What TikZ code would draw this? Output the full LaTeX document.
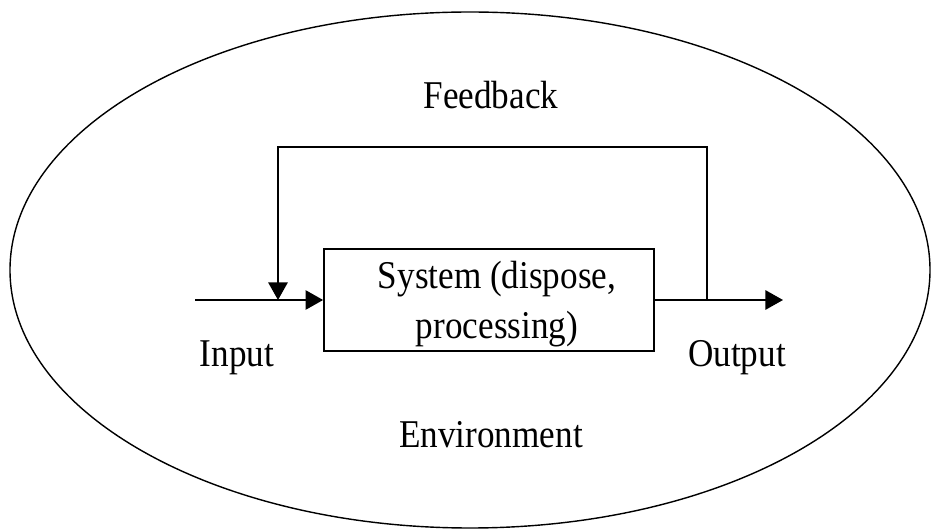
\documentclass[tikz,border=0pt]{standalone}
\usepackage{graphicx}
\usepackage{fontspec}
\setmainfont{Liberation Serif}
\usetikzlibrary{arrows.meta}
\newcommand{\vtext}[1]{\scalebox{1}[1.12]{#1}}
\begin{document}
\begin{tikzpicture}[line width=1pt, >={Triangle[length=10pt,width=11pt]},
        every node/.style={font=\fontsize{20}{24}\selectfont}]
        \useasboundingbox (0,0) rectangle (18.7,10.62);
        \draw[line width=0.8pt] (9.4,5.22) ellipse (9.2 and 5.16);
        \node[draw, minimum width=6.6cm, minimum height=2.04cm] (sys) at (9.78,4.62) {};
        \node[align=center] (systext) at (9.94,4.54) {\vtext{System (dispose,}\\[4pt]\vtext{processing)}};
        \coordinate (in) at (3.9,4.62);
        \coordinate (out) at (15.66,4.62);
        \coordinate (fbout) at (14.14,4.62);
        \coordinate (fbin) at (5.56,4.62);
        \draw[->] (in) -- (sys.west);
        \draw[->] (sys.east) -- (out);
        \draw[->] (fbout) -- ++(0,3.06) -| (fbin);
        \node[anchor=base] (fb) at (9.82,8.44) {\vtext{Feedback}};
        \node[anchor=base] (inlab) at (4.74,3.28) {\vtext{Input}};
        \node[anchor=base] (outlab) at (14.74,3.28) {\vtext{Output}};
        \node[anchor=base] (env) at (9.82,1.66) {\vtext{Environment}};
    \end{tikzpicture}
\end{document}
